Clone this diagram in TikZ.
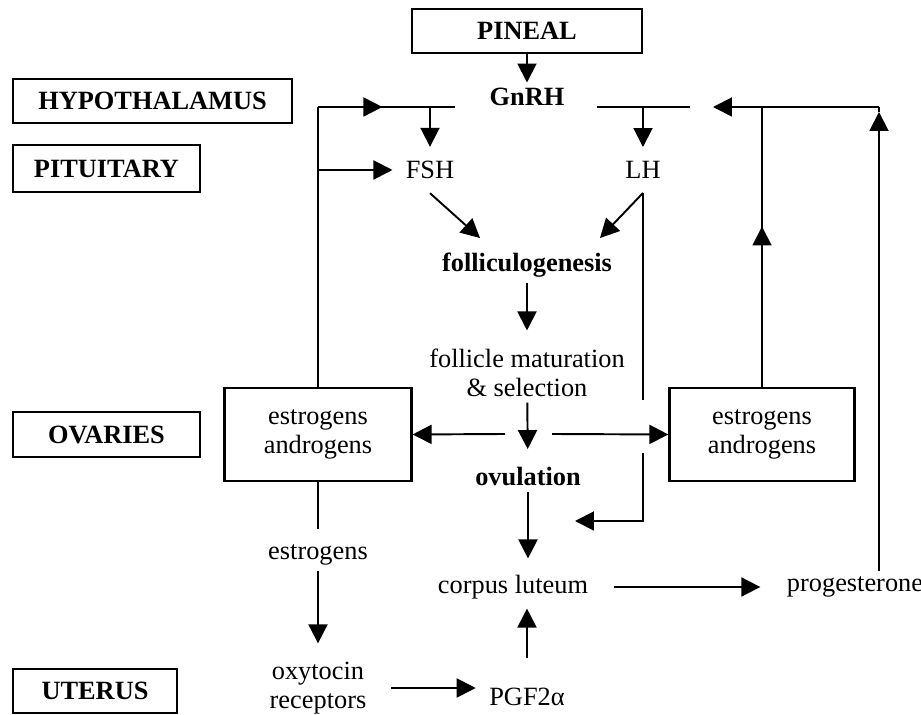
\documentclass[tikz,border=0pt]{standalone}
\usepackage{fontspec}
\setmainfont{Liberation Serif}
\usetikzlibrary{arrows.meta,positioning,calc}

\begin{document}
\begin{tikzpicture}
[x=0.02cm, y=-0.02cm, font=\fontsize{15}{16.5}\selectfont,
Organ/.style={rectangle,draw,line width=1.3pt,inner sep=0pt,font=\fontsize{15}{16.5}\selectfont\bfseries,minimum height=0.88cm},
Gland/.style={rectangle,draw,line width=1.3pt,align=center,minimum width=3.74cm,minimum height=1.86cm},
Tag/.style={rectangle,inner sep=3pt,align=center},
Bold/.style={Tag,font=\fontsize{15}{16.5}\selectfont\bfseries},
Hormone/.style={rectangle,inner xsep=0.26cm,inner ysep=0.28cm},
Line/.style={line width=1.1pt},
Arr/.style={line width=1.1pt,-{Triangle[length=0.38cm,width=0.38cm]}}]

\useasboundingbox (0,0) rectangle (921,715);

% organe
\node[Organ, minimum width=4.6cm] (n1) at (527,31) {PINEAL};
\node[Organ, minimum width=5.58cm] (n2) at (152.5,101) {HYPOTHALAMUS};
\node[Organ, minimum width=3.74cm, minimum height=0.94cm] (n3) at (106.5,168.5) {PITUITARY};
\node[Organ, minimum width=3.74cm, minimum height=0.9cm] (n4) at (106.5,434.5) {OVARIES};
\node[Organ, minimum width=3.28cm] (n5) at (95,691) {UTERUS};

% hormone
\node[Bold] (n6) at (527,97) {GnRH};
\node[Hormone] (n7) at (430,170) {FSH};
\node[Hormone] (n8) at (643,170) {LH};

% follikel
\node[Bold] (n9) at (527,265) {folliculogenesis};
\node[Tag] (n10) at (527,373) {follicle maturation\\\& selection};
\node[Bold] (n11) at (528,477) {ovulation};
\node[Gland] (n12) at (318,434.5) {estrogens\\androgens};
\node[Gland, minimum width=3.7cm] (n13) at (762,434.5) {estrogens\\androgens};

% gelbkoerper, uterus
\node[Tag] (n14) at (513,587) {corpus luteum};
\node[Tag] (n15) at (527,697) {PGF2α};
\node[Tag] (n16) at (318,555) {estrogens};
\node[Tag] (n17) at (855,587) {progesterone};
\node[Tag] (n18) at (318,688) {oxytocin\\receptors};

% knoten
\coordinate (c1) at (318,107);
\coordinate (c2) at (455,107);
\coordinate (c3) at (597,107);
\coordinate (c4) at (690,107);
\coordinate (c5) at (762,107);
\coordinate (c6) at (879,107);
\coordinate (c8) at (713,107);
\coordinate (c9) at (879,112);
\coordinate (c11) at (600,238);
\coordinate (c12) at (480,238);
\coordinate (c13) at (643,400);
\coordinate (c14) at (643,453);
\coordinate (c15) at (643,521);
\coordinate (c16) at (505,434);
\coordinate (c17) at (552,434);
\coordinate (c18) at (575,521);

% GnRH
\draw[Arr] (n1.south) -- (n6.north);
\draw[Line] (c1) -- (c2);
\draw[Arr] (c1) -- ($(c1)!0.47!(c2)$);
\draw[Line] (c3) -- (c4);
\draw[Arr] (c1 -| n7) -- (n7.north);
\draw[Arr] (c3 -| n8) -- (n8.north);

% rueckkopplung links
\draw[Line] (n12.north) -- (c1);
\draw[Arr] (n12.north |- n7) -- (n7.west);

% rueckkopplung rechts
\draw[Line] (n13.north) -- (c5);
\draw[Arr] (n13.north) -- ($(n13.north)!0.573!(c5)$);
\draw[Arr] (n17.north -| c6) -- (c9);
\draw[Line] (c9) -- (c6);
\draw[Arr] (c6) -- (c8);

% FSH, LH
\draw[Arr] (n7.south) -- (c12);
\draw[Arr] (n8.south) -- (c11);
\draw[Line] (n8.south) -- (c13);
\draw[Arr] (c14) -- (c15) -- (c18);

% follikel
\draw[Arr, shorten >=0.26cm] (n9) -- (n10);
\draw[Arr, shorten >=0.26cm] (n10) -- (n11);
\draw[Arr] (c16) -- (n12.east);
\draw[Arr] (c17) -- (n13.west);
\draw[Arr, shorten >=0.22cm] (n11) -- (n11 |- n14.north);
\draw[Arr, shorten <=0.4cm, shorten >=0.42cm] (n14) -- (n17);

% uterus
\draw[Line, shorten >=0.2cm] (n12) -- (n16);
\draw[Arr, shorten >=0.26cm] (n16) -- (n18);
\draw[Arr, shorten <=0.38cm, shorten >=0.16cm] (n18) -- (n18 -| n15.west);
\draw[Arr, shorten <=0.5cm, shorten >=0.08cm] (n15) -- (n15 |- n14.south);

\end{tikzpicture}
\end{document}
